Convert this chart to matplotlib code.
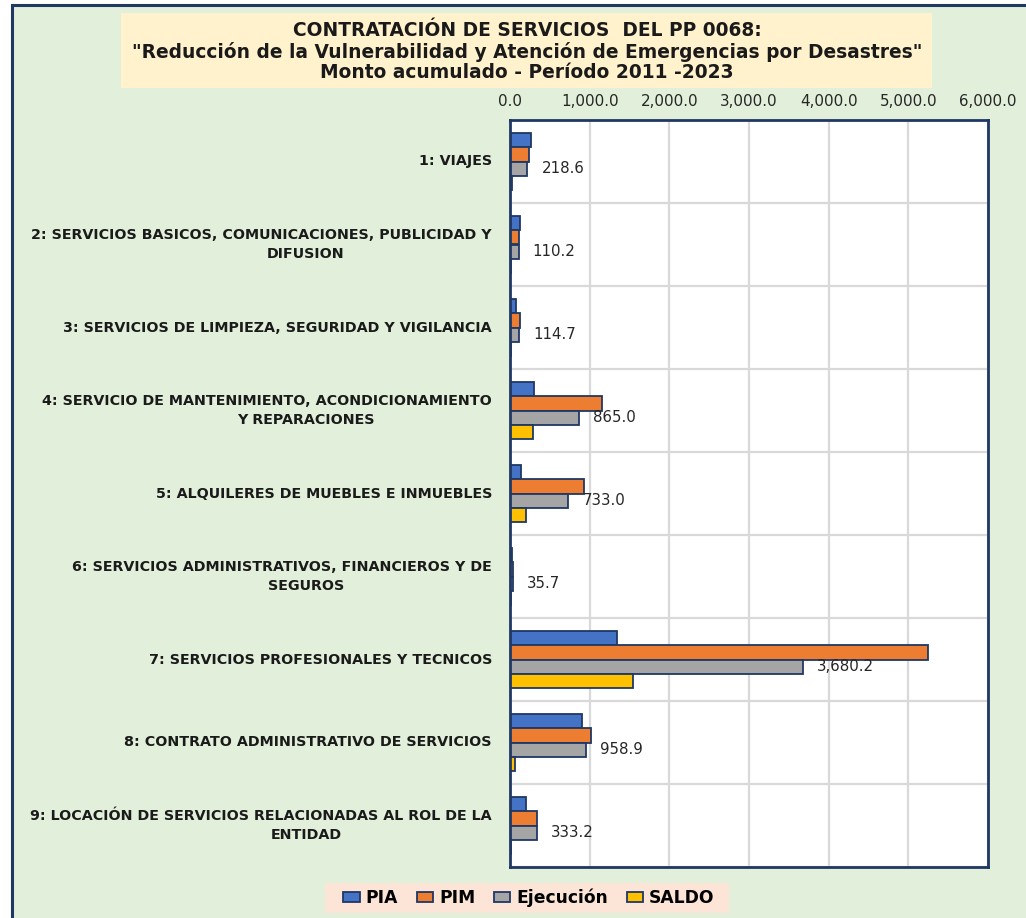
import matplotlib
matplotlib.use("Agg")
import matplotlib.pyplot as plt
from matplotlib.patches import Rectangle
from matplotlib.ticker import FuncFormatter
import numpy as np

# ---------------- data ----------------
cat_line1 = [
    "1: VIAJES",
    "2: SERVICIOS BASICOS, COMUNICACIONES, PUBLICIDAD Y",
    "3: SERVICIOS DE LIMPIEZA, SEGURIDAD Y VIGILANCIA",
    "4: SERVICIO DE MANTENIMIENTO, ACONDICIONAMIENTO",
    "5: ALQUILERES DE MUEBLES E INMUEBLES",
    "6: SERVICIOS ADMINISTRATIVOS, FINANCIEROS Y DE",
    "7: SERVICIOS PROFESIONALES Y TECNICOS",
    "8: CONTRATO ADMINISTRATIVO DE SERVICIOS",
    "9: LOCACIÓN DE SERVICIOS RELACIONADAS AL ROL DE LA",
]
cat_line2 = ["", "DIFUSION", "", "Y REPARACIONES", "", "SEGUROS", "", "", "ENTIDAD"]

pia = [260, 126, 80, 306, 142, 25, 1342, 910, 197]
pim = [240, 117, 122, 1153, 935, 42, 5241, 1015, 344]
ejecucion = [218.6, 110.2, 114.7, 865.0, 733.0, 35.7, 3680.2, 958.9, 333.2]
saldo = [20, 15, 10, 285, 197, 8, 1543, 59, 12]

series_names = ["PIA", "PIM", "Ejecución", "SALDO"]
series_colors = ["#4472C4", "#ED7D31", "#A5A5A5", "#FFC000"]
x_ticks = [0, 1000, 2000, 3000, 4000, 5000, 6000]

title_lines = [
    "CONTRATACIÓN DE SERVICIOS  DEL PP 0068:",
    "\"Reducción de la Vulnerabilidad y Atención de Emergencias por Desastres\"",
    "Monto acumulado - Período 2011 -2023",
]

# ---------------- figure ----------------
W, H = 1026, 918
DPI = 100
BG = "#E2EFDA"
NAVY = "#1F3864"
LABEL_FONT = "DejaVu Sans"
NUM_FONT = "DejaVu Sans"

fig = plt.figure(figsize=(W / DPI, H / DPI), dpi=DPI, facecolor="white")

def px(x0, y0, x1, y1):
    return [x0 / W, 1 - y1 / H, (x1 - x0) / W, (y1 - y0) / H]

# outer chart area (right and bottom edges fall outside the image)
fig.patches.append(Rectangle((12 / W, -0.05), 1.1, 1.05 - 5 / H, transform=fig.transFigure,
                             facecolor=BG, edgecolor=NAVY, linewidth=2.2, zorder=0))

# title box
tb = px(121, 13, 932, 88)
fig.patches.append(Rectangle((tb[0], tb[1]), tb[2], tb[3], transform=fig.transFigure,
                             facecolor="#FFF2CC", edgecolor="none", zorder=1))
for yy, line in zip([31, 52, 73], title_lines):
    fig.text(527 / W, 1 - yy / H, line, ha="center", va="center", fontsize=13.4,
             fontweight="bold", family=LABEL_FONT, color="#1a1a1a", zorder=2)

# plot axes
ax = fig.add_axes(px(510, 120, 988, 867))
ax.set_zorder(3)
ax.set_facecolor("white")
n = len(cat_line1)
y = np.arange(n)
bh = 0.17
offsets = [-1.5 * bh, -0.5 * bh, 0.5 * bh, 1.5 * bh]
for vals, off, col, name in zip([pia, pim, ejecucion, saldo], offsets, series_colors, series_names):
    bars = ax.barh(y + off, vals, height=bh, color=col, edgecolor=NAVY, linewidth=1.3,
                   label=name, zorder=3)
    if name == "Ejecución":
        for b, v in zip(bars, vals):
            ax.annotate(f"{v:,.1f}", (b.get_width(), b.get_y() + b.get_height() / 2),
                        xytext=(14, 0), textcoords="offset pixels", ha="left", va="center",
                        fontsize=10.8, family=NUM_FONT, color="#262626", zorder=4)

ax.set_xlim(0, 6000)
ax.set_ylim(n - 0.5, -0.5)
ax.set_xticks(x_ticks)
ax.xaxis.set_major_formatter(FuncFormatter(lambda v, p: f"{v:,.1f}"))
ax.xaxis.tick_top()
ax.tick_params(axis="x", length=0, pad=8, labelsize=10.9, labelcolor="#262626")
for lab in ax.get_xticklabels():
    lab.set_family(NUM_FONT)
ax.set_yticks([])
ax.set_yticks(np.arange(-0.5, n, 1.0), minor=True)
ax.tick_params(axis="y", which="minor", length=0)
ax.grid(axis="x", which="major", color="#D9D9D9", linewidth=1.6, zorder=0)
ax.grid(axis="y", which="minor", color="#D9D9D9", linewidth=1.6, zorder=0)
for s in ax.spines.values():
    s.set_color(NAVY)
    s.set_linewidth(2.0)
    s.set_zorder(5)

# category labels
x_right = (492 - 510) / (988 - 510)
x_center2 = (306 - 510) / (988 - 510)
lab_kw = dict(fontsize=10.3, fontweight="bold", family=LABEL_FONT, color="#1a1a1a",
              transform=ax.get_yaxis_transform(), clip_on=False)
for i, (l1, l2) in enumerate(zip(cat_line1, cat_line2)):
    if l2:
        ax.text(x_right, i - 0.11, l1, ha="right", va="center", **lab_kw)
        ax.text(x_center2, i + 0.11, l2, ha="center", va="center", **lab_kw)
    else:
        ax.text(x_right, i, l1, ha="right", va="center", **lab_kw)

# legend
lb = px(325, 883, 729, 913)
fig.patches.append(Rectangle((lb[0], lb[1]), lb[2], lb[3], transform=fig.transFigure,
                             facecolor="#FCE4D6", edgecolor="none", zorder=1))
handles, labels = ax.get_legend_handles_labels()
leg = fig.legend(handles, labels, loc="center", bbox_to_anchor=(529 / W, 1 - 898 / H),
                 ncol=4, frameon=False, prop={"family": LABEL_FONT, "weight": "bold", "size": 12.3},
                 handlelength=0.95, handleheight=0.55, handletextpad=0.35, columnspacing=1.1,
                 borderpad=0.2)
leg.set_zorder(4)

fig.savefig("out.png", dpi=DPI, facecolor=fig.get_facecolor())
